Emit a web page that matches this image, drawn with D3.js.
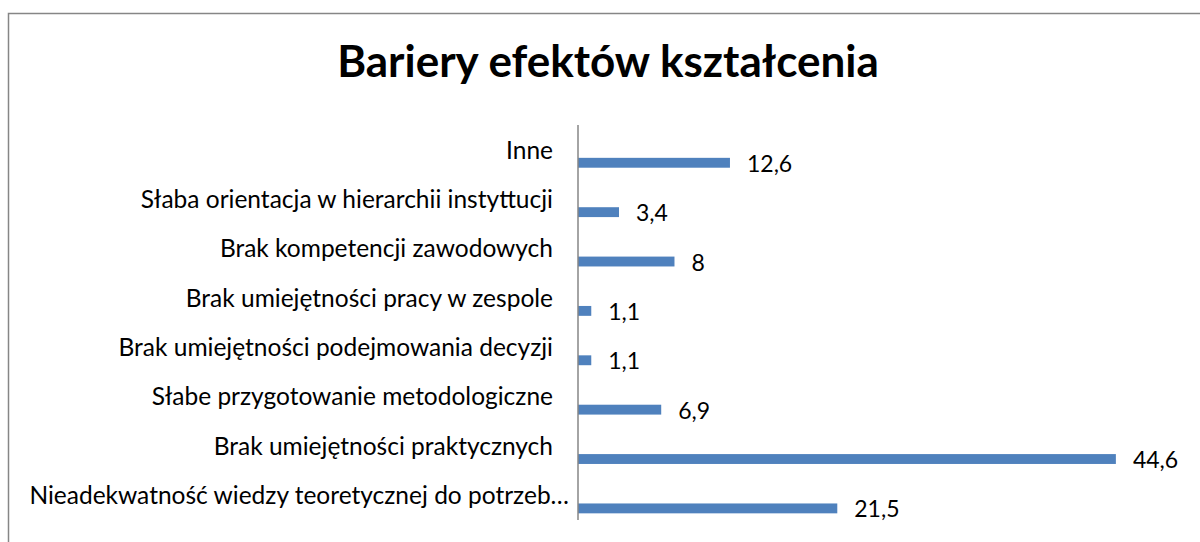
<!DOCTYPE html>
<html>
<head>
<meta charset="utf-8">
<script src="https://cdn.jsdelivr.net/npm/d3@7"></script>
<style>
  html, body { margin: 0; padding: 0; background: #fff; }
  svg { display: block; }
</style>
</head>
<body>
<svg id="chart" width="1200" height="542"></svg>
<script>
const title = "Bariery efektów kształcenia";
const categories = [
  "Inne",
  "Słaba orientacja w hierarchii instyttucji",
  "Brak kompetencji zawodowych",
  "Brak umiejętności pracy w zespole",
  "Brak umiejętności podejmowania decyzji",
  "Słabe przygotowanie metodologiczne",
  "Brak umiejętności praktycznych",
  "Nieadekwatność wiedzy teoretycznej do potrzeb…"
];
const values = [12.6, 3.4, 8, 1.1, 1.1, 6.9, 44.6, 21.5];
const xDomain = [0, 50];

const svg = d3.select("#chart");
const font = "Lato, 'Open Sans', sans-serif";

// outer border
svg.append("rect")
  .attr("x", 8.5).attr("y", 13.5)
  .attr("width", 1300).attr("height", 600)
  .attr("fill", "#fff")
  .attr("stroke", "#868686").attr("stroke-width", 1.5);

svg.append("text")
  .attr("x", 608).attr("y", 77)
  .attr("text-anchor", "middle")
  .attr("font-family", font)
  .attr("font-weight", "bold")
  .attr("font-size", 44)
  .attr("fill", "#000")
  .text(title);

const x = d3.scaleLinear().domain(xDomain).range([578, 1181]);
const y = d3.scaleBand().domain(categories).range([125, 520]);
const bw = y.bandwidth();

// bars
svg.append("g").selectAll("rect")
  .data(categories)
  .join("rect")
  .attr("x", x(0))
  .attr("y", d => y(d) + bw * 0.665)
  .attr("width", (d, i) => x(values[i]) - x(0))
  .attr("height", bw * 0.2)
  .attr("fill", "#4F81BD");

// axis line
svg.append("line")
  .attr("x1", x(0)).attr("x2", x(0))
  .attr("y1", 125).attr("y2", 520)
  .attr("stroke", "#868686").attr("stroke-width", 1.5);

// category labels
svg.append("g").selectAll("text")
  .data(categories)
  .join("text")
  .attr("x", d => d.endsWith("…") ? x(0) - 9 : x(0) - 25)
  .attr("y", d => y(d) + bw * 0.68)
  .attr("text-anchor", "end")
  .attr("font-family", font)
  .attr("font-size", 24.5)
  .attr("font-variant-ligatures", "none")
  .attr("fill", "#000")
  .text(d => d);

// value labels
const fmt = v => String(v).replace(".", ",");
svg.append("g").selectAll("text")
  .data(categories)
  .join("text")
  .attr("x", (d, i) => x(values[i]) + 17)
  .attr("y", d => y(d) + bw * 0.765 + 9)
  .attr("font-family", font)
  .attr("font-size", 23)
  .attr("fill", "#000")
  .text((d, i) => fmt(values[i]));
</script>
</body>
</html>
